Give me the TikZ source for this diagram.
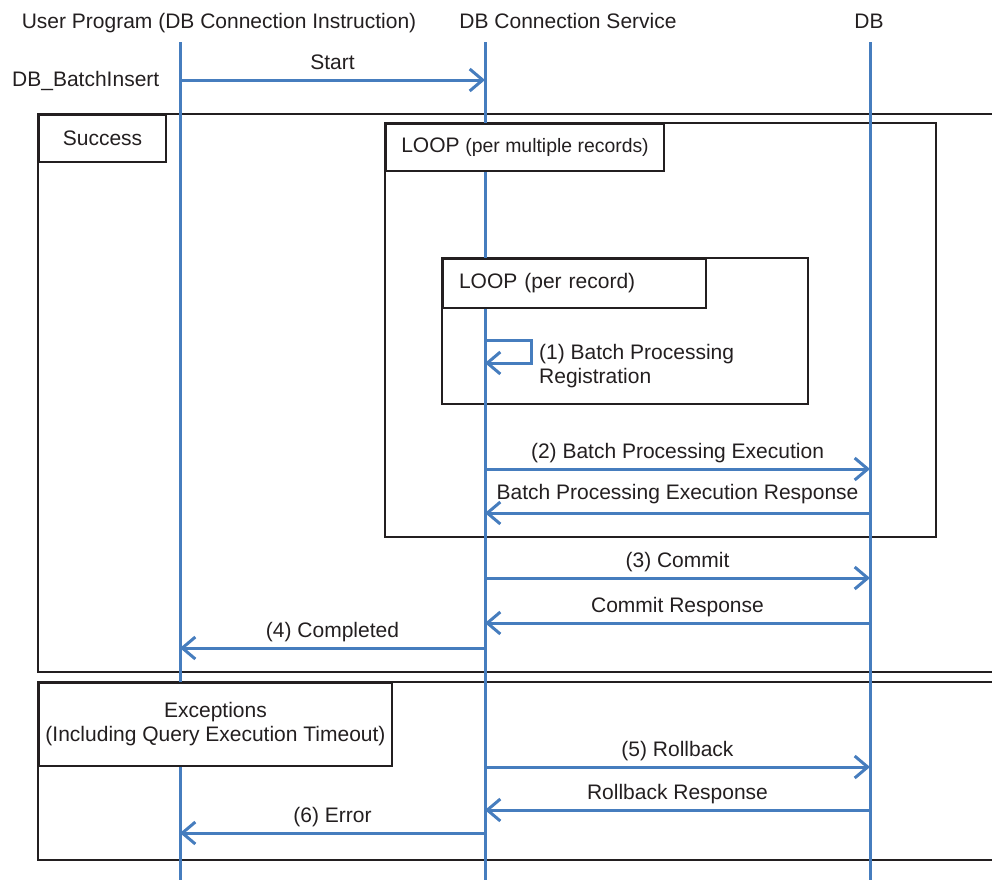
\documentclass[tikz,border=0pt]{standalone}
\usepackage{fontspec}
\setmainfont{Liberation Sans}
\usepackage{xcolor}
\usetikzlibrary{arrows.meta,positioning}
\definecolor{lifeblue}{RGB}{70,125,190}
\definecolor{ink}{RGB}{35,31,32}

\begin{document}
\begin{tikzpicture}[
  x=1pt, y=-1pt,
  font=\fontsize{21}{24}\selectfont,
  life/.style={lifeblue, line width=3pt},
  arr/.style={lifeblue, line width=3pt, -{Straight Barb[length=13pt, width=22pt]}},
  frame/.style={draw=ink, line width=2pt},
  tag/.style={draw=ink, line width=2pt, fill=white, text=ink, anchor=north west,
              inner sep=0pt, align=center},
  head/.style={text=ink, anchor=base, inner sep=0pt},
  lab/.style={text=ink, anchor=base, inner sep=0pt, yshift=11pt}
]
\useasboundingbox (0,0) rectangle (992,879);
\clip (0,0) rectangle (992,879);

% lifeline heads
\node[head] (uph) at (219,28) {User Program (DB Connection Instruction)};
\node[head] (svh) at (568,28) {DB Connection Service};
\node[head] (dbh) at (869,28) {DB};
\node[head, anchor=base west] (fb) at (12,86) {DB\_BatchInsert};

\coordinate (usr) at (180,42);
\coordinate (svc) at (485,42);
\coordinate (db) at (870,42);
\coordinate (bot) at (0,885);

% message rows
\coordinate (m0) at (0,80);
\coordinate (m1a) at (0,340);
\coordinate (m1b) at (0,363);
\coordinate (m2) at (0,469);
\coordinate (m2r) at (0,513);
\coordinate (m3) at (0,578);
\coordinate (m3r) at (0,623);
\coordinate (m4) at (0,648);
\coordinate (m5) at (0,767);
\coordinate (m5r) at (0,810);
\coordinate (m6) at (0,833);

% combined fragments
\draw[frame] (38,114) rectangle (1000,672);
\draw[frame] (385,123) rectangle (936,537);
\draw[frame] (442,258) rectangle (808,404);
\draw[frame] (38,682) rectangle (1000,860);

% lifelines
\draw[life] (usr) -- (usr |- bot);
\draw[life] (svc) -- (svc |- bot);
\draw[life] (db) -- (db |- bot);

% fragment tags
\node[tag, minimum width=127pt, minimum height=47pt] (succ) at (38,114) {Success};
\node[tag, minimum width=278pt, minimum height=47pt] (loopm) at (385,123)
  {LOOP {\fontsize{19.4}{24}\selectfont(per multiple records)}};
\node[tag, minimum height=49pt, text width=231pt, inner xsep=16pt, align=left] (loopr)
  at (442,258) {LOOP (per record)};
\node[tag, minimum width=353pt, minimum height=83pt] (exc) at (38,682)
  {Exceptions\\(Including Query Execution Timeout)};

% messages
\draw[arr] (usr |- m0) -- (svc |- m0) node[lab, midway] {Start};
\draw[arr] (svc |- m1a) -- ++(46,0) |- (svc |- m1b);
\node[text=ink, anchor=north west, inner sep=0pt, align=left] (reg) at (539,344)
  {(1) Batch Processing\\Registration};
\draw[arr] (svc |- m2) -- (db |- m2) node[lab, midway] {(2) Batch Processing Execution};
\draw[arr] (db |- m2r) -- (svc |- m2r) node[lab, midway, yshift=3pt] {Batch Processing Execution Response};
\draw[arr] (svc |- m3) -- (db |- m3) node[lab, midway] {(3) Commit};
\draw[arr] (db |- m3r) -- (svc |- m3r) node[lab, midway] {Commit Response};
\draw[arr] (svc |- m4) -- (usr |- m4) node[lab, midway] {(4) Completed};
\draw[arr] (svc |- m5) -- (db |- m5) node[lab, midway] {(5) Rollback};
\draw[arr] (db |- m5r) -- (svc |- m5r) node[lab, midway] {Rollback Response};
\draw[arr] (svc |- m6) -- (usr |- m6) node[lab, midway] {(6) Error};
\end{tikzpicture}
\end{document}
